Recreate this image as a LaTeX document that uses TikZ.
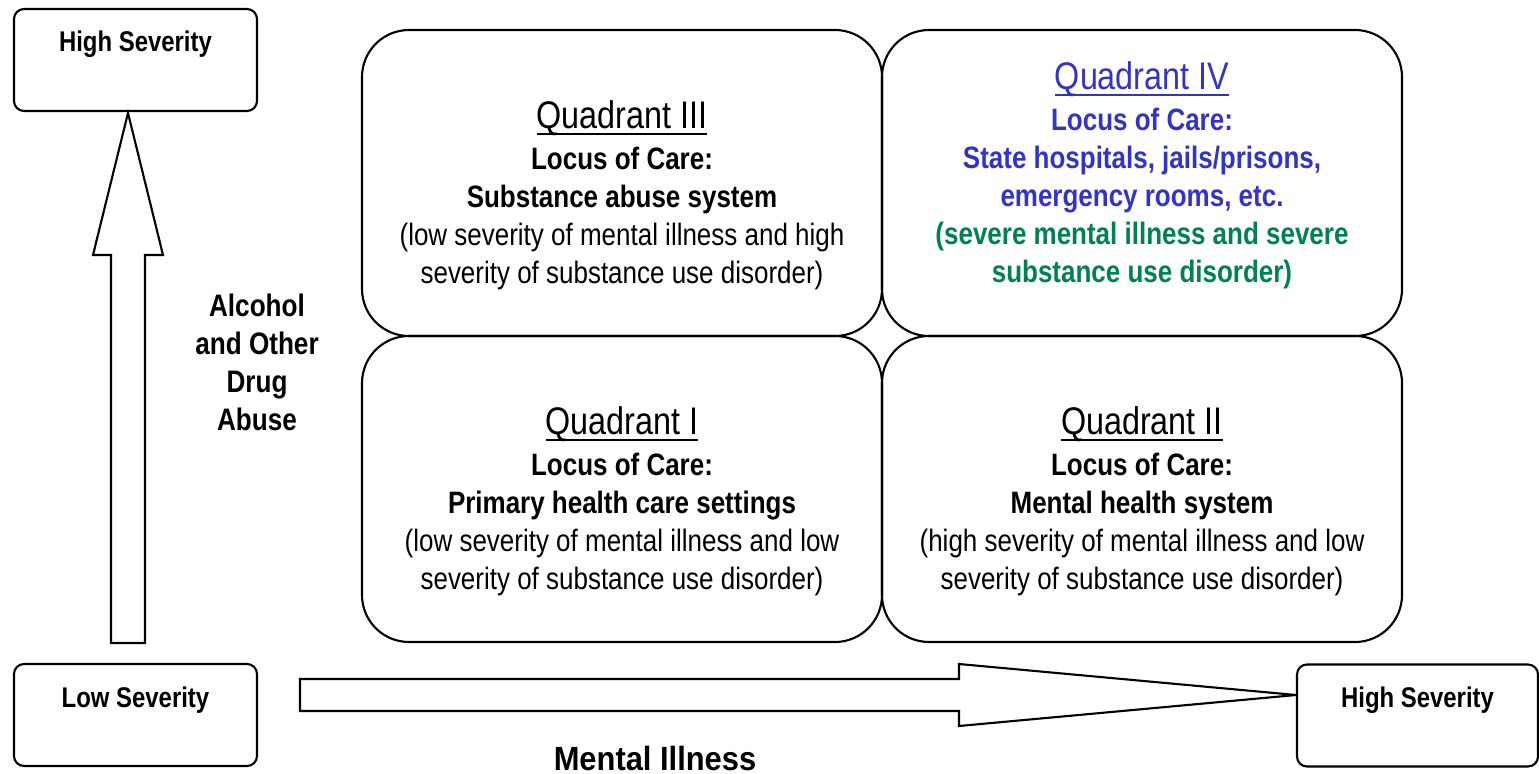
\documentclass[tikz,border=0pt]{standalone}
\usepackage{fontspec}
\setmainfont[FakeStretch=0.84]{Liberation Sans}
\newfontfamily\axisfont[FakeStretch=0.92]{Liberation Sans}
\usetikzlibrary{positioning}
\definecolor{locusblue}{RGB}{51,51,204}
\definecolor{locusgreen}{RGB}{0,128,85}

\tikzset{
	sevbox/.style={draw, line width=0.6pt, rounded corners=0.1cm, minimum width=2.43cm,
		inner ysep=0pt, text height=0.43cm, text depth=0.59cm, font=\bfseries\fontsize{8.1}{9.6}\selectfont},
	quadbox/.style={draw, line width=0.6pt, rounded corners=0.47cm, outer sep=0pt,
		minimum width=5.20cm, minimum height=3.06cm},
	quadtext/.style={align=center, inner sep=0pt, font=\fontsize{8.8}{10.8}\selectfont},
	blockarrow/.style={draw, line width=0.6pt, fill=white},
}
\newcommand{\quadtitle}[1]{{\fontsize{10.95}{12}\selectfont\setbox0\hbox{#1}\rlap{\rule[-2.1pt]{\wd0}{0.8pt}}\box0}\\[1pt]}

\begin{document}
\begin{tikzpicture}
			\useasboundingbox (0,0) rectangle (15.39,7.73);
			\node[sevbox] (aodhigh) at (1.355,7.13) {High Severity};
			\node[sevbox] (milow) at (1.355,0.58) {Low Severity};
			\node[sevbox, minimum width=2.41cm] (mihigh) at (14.175,0.575) {High Severity};
			\coordinate (aodfoot) at (1.28,1.30);
			\coordinate (mifoot) at (3.00,0.78);
			\draw[blockarrow, shift={(aodfoot)}] (-0.17,0) -- (-0.17,3.88) -- (-0.35,3.88) -- (0,5.30) -- (0.35,3.88) -- (0.17,3.88) -- (0.17,0) -- cycle;
			\draw[blockarrow, shift={(mifoot)}] (0,-0.16) -- (6.59,-0.16) -- (6.59,-0.31) -- (9.96,0) -- (6.59,0.31) -- (6.59,0.16) -- (0,0.16) -- cycle;
			\node[align=center, font=\bfseries\fontsize{8.85}{10.8}\selectfont] (aodlabel) at (2.57,4.11) {Alcohol\\and Other\\Drug\\Abuse};
			\node[font=\axisfont\bfseries\fontsize{9.55}{11}\selectfont] (milabel) at (6.55,0.15) {Mental Illness};
			\node[quadbox] (q3box) at (6.22,5.90) {};
			\node[quadbox, right=0pt of q3box] (q4box) {};
			\node[quadbox, below=0pt of q3box] (q1box) {};
			\node[quadbox, right=0pt of q1box] (q2box) {};
			\node[quadtext] (q3) at ([yshift=-1.2mm]q3box.center) {\quadtitle{Quadrant III}
				\textbf{Locus of Care:}\\ \textbf{Substance abuse system}\\
				(low severity of mental illness and high\\ severity of substance use disorder)};
			\node[quadtext, text=locusblue] (q4) at ([yshift=0.8mm]q4box.center) {\quadtitle{Quadrant IV}
				\textbf{Locus of Care:}\\ \textbf{State hospitals, jails/prisons,}\\ \textbf{emergency rooms, etc.}\\
				\textcolor{locusgreen}{\textbf{(severe mental illness and severe}}\\ \textcolor{locusgreen}{\textbf{substance use disorder)}}};
			\node[quadtext] (q1) at ([yshift=-1.2mm]q1box.center) {\quadtitle{Quadrant I}
				\textbf{Locus of Care:}\\ \textbf{Primary health care settings}\\
				(low severity of mental illness and low\\ severity of substance use disorder)};
			\node[quadtext] (q2) at ([yshift=-1.2mm]q2box.center) {\quadtitle{Quadrant II}
				\textbf{Locus of Care:}\\ \textbf{Mental health system}\\
				(high severity of mental illness and low\\ severity of substance use disorder)};
			\end{tikzpicture}
\end{document}
